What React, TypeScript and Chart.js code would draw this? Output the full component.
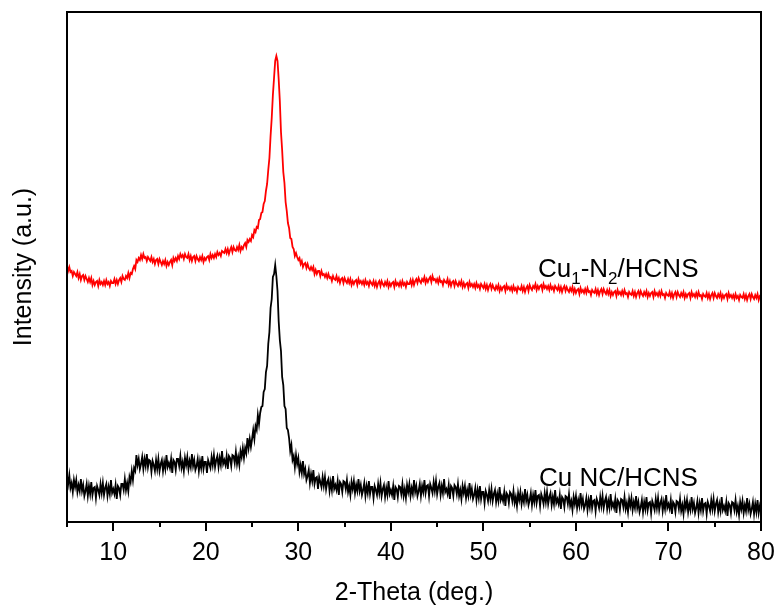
import React, { useEffect, useRef } from "react";
import { Chart, registerables } from "chart.js";

Chart.register(...registerables);

// 2-Theta sampling grid (deg.), 0.125° steps from 5 to 80
const twoTheta: number[] = [];
for (let i = 0; i <= 600; i++) twoTheta.push(5 + i * 0.125);

// Cu1-N2/HCNS intensity (a.u., offset trace), 8 readings per degree
const cuN2Hcns: number[] = [
  256, 251, 255, 250, 251, 246, 250, 248, // 5
  246, 250, 244, 248, 242, 246, 247, 242, // 6
  246, 243, 240, 244, 240, 244, 237, 241, // 7
  237, 240, 241, 236, 242, 238, 240, 237, // 8
  241, 237, 242, 238, 240, 236, 241, 239, // 9
  239, 243, 238, 242, 238, 242, 244, 240, // 10
  246, 243, 242, 246, 244, 249, 244, 249, // 11
  248, 253, 256, 253, 262, 260, 264, 262, // 12
  267, 263, 268, 264, 265, 261, 265, 263, // 13
  261, 265, 260, 263, 258, 262, 263, 258, // 14
  263, 260, 257, 261, 258, 262, 256, 260, // 15
  257, 260, 262, 257, 264, 261, 264, 261, // 16
  266, 263, 268, 265, 267, 263, 268, 265, // 17
  264, 268, 262, 266, 261, 265, 266, 261, // 18
  266, 263, 261, 265, 262, 266, 260, 264, // 19
  262, 265, 266, 262, 268, 264, 267, 264, // 20
  268, 265, 270, 267, 269, 266, 271, 270, // 21
  269, 273, 269, 273, 268, 272, 275, 270, // 22
  275, 272, 271, 275, 272, 277, 271, 275, // 23
  273, 277, 279, 275, 282, 280, 283, 281, // 24
  287, 285, 292, 290, 295, 294, 302, 303, // 25
  309, 310, 318, 321, 331, 338, 352, 364, // 26
  386, 404, 427, 444, 461, 466, 461, 443, // 27
  421, 390, 372, 350, 339, 320, 311, 299, // 28
  294, 284, 283, 275, 273, 266, 269, 265, // 29
  262, 264, 258, 261, 255, 258, 259, 254, // 30
  258, 254, 252, 255, 252, 255, 248, 252, // 31
  248, 251, 251, 246, 251, 247, 248, 245, // 32
  248, 244, 248, 244, 245, 241, 246, 243, // 33
  242, 246, 241, 244, 239, 243, 244, 239, // 34
  244, 241, 239, 243, 239, 243, 237, 241, // 35
  238, 241, 242, 237, 243, 239, 241, 238, // 36
  241, 237, 242, 238, 240, 236, 241, 239, // 37
  237, 241, 236, 240, 235, 239, 241, 236, // 38
  241, 238, 236, 240, 237, 241, 235, 239, // 39
  236, 239, 240, 235, 241, 237, 239, 236, // 40
  240, 236, 241, 237, 239, 235, 240, 238, // 41
  238, 242, 237, 242, 237, 241, 243, 239, // 42
  244, 241, 239, 243, 241, 245, 239, 243, // 43
  240, 243, 245, 240, 246, 242, 243, 240, // 44
  243, 239, 244, 240, 241, 237, 242, 240, // 45
  239, 243, 237, 241, 236, 240, 241, 236, // 46
  241, 238, 236, 240, 237, 241, 235, 239, // 47
  235, 238, 239, 234, 240, 236, 238, 235, // 48
  238, 234, 239, 235, 237, 233, 238, 236, // 49
  234, 238, 233, 237, 232, 236, 238, 233, // 50
  237, 234, 232, 236, 233, 237, 231, 235, // 51
  232, 235, 236, 231, 237, 233, 235, 232, // 52
  235, 231, 236, 232, 234, 230, 235, 233, // 53
  232, 236, 231, 235, 230, 234, 236, 231, // 54
  237, 234, 232, 236, 234, 238, 232, 236, // 55
  233, 236, 237, 232, 238, 234, 236, 233, // 56
  236, 232, 237, 233, 235, 231, 236, 234, // 57
  232, 236, 231, 235, 230, 234, 236, 231, // 58
  235, 232, 230, 234, 231, 235, 229, 233, // 59
  229, 232, 233, 228, 234, 230, 232, 229, // 60
  233, 229, 234, 230, 231, 227, 232, 230, // 61
  229, 233, 228, 232, 227, 231, 233, 228, // 62
  233, 230, 228, 232, 228, 232, 226, 230, // 63
  227, 230, 231, 226, 232, 228, 230, 227, // 64
  231, 227, 232, 228, 229, 225, 230, 228, // 65
  227, 231, 226, 230, 225, 229, 231, 226, // 66
  231, 228, 226, 230, 227, 231, 225, 229, // 67
  226, 229, 230, 225, 231, 227, 229, 226, // 68
  230, 226, 231, 227, 228, 224, 229, 227, // 69
  226, 230, 225, 229, 224, 228, 230, 225, // 70
  230, 227, 225, 229, 226, 230, 224, 228, // 71
  225, 228, 229, 224, 230, 226, 228, 225, // 72
  229, 225, 230, 226, 227, 223, 228, 226, // 73
  225, 229, 224, 228, 223, 227, 229, 224, // 74
  229, 226, 224, 228, 225, 229, 223, 227, // 75
  224, 227, 228, 223, 229, 225, 227, 224, // 76
  227, 223, 228, 224, 226, 222, 227, 225, // 77
  224, 228, 223, 227, 222, 226, 228, 223, // 78
  228, 225, 223, 227, 224, 228, 222, 226, // 79
  225, // 80
];

// Cu NC/HCNS intensity (a.u., offset trace), 8 readings per degree
const cuNcHcns: number[] = [
  46, 38, 47, 34, 39, 30, 42, 35, // 5
  42, 30, 37, 31, 43, 31, 37, 26, // 6
  31, 38, 26, 36, 28, 40, 27, 34, // 7
  35, 24, 36, 32, 27, 38, 29, 39, // 8
  27, 34, 38, 26, 35, 28, 42, 29, // 9
  33, 28, 37, 23, 36, 34, 27, 38, // 10
  38, 32, 43, 32, 39, 31, 45, 40, // 11
  51, 42, 54, 51, 67, 57, 63, 53, // 12
  58, 65, 53, 63, 56, 68, 55, 62, // 13
  61, 50, 61, 57, 51, 62, 53, 63, // 14
  51, 58, 62, 51, 60, 53, 67, 55, // 15
  59, 54, 63, 49, 62, 60, 52, 63, // 16
  63, 56, 66, 54, 60, 51, 64, 57, // 17
  65, 53, 61, 55, 68, 56, 62, 52, // 18
  56, 63, 51, 61, 54, 66, 53, 60, // 19
  60, 49, 62, 58, 54, 65, 57, 67, // 20
  55, 62, 66, 55, 64, 57, 71, 58, // 21
  62, 57, 66, 53, 66, 64, 56, 67, // 22
  66, 59, 70, 58, 65, 57, 71, 65, // 23
  74, 64, 74, 69, 84, 74, 83, 75, // 24
  83, 92, 83, 96, 92, 107, 98, 109, // 25
  115, 116, 130, 133, 150, 156, 178, 190, // 26
  214, 223, 245, 248, 257, 246, 231, 201, // 27
  182, 171, 145, 137, 116, 113, 94, 92, // 28
  84, 71, 77, 62, 66, 55, 67, 58, // 29
  64, 50, 57, 49, 61, 48, 53, 42, // 30
  46, 52, 39, 48, 41, 52, 38, 44, // 31
  45, 33, 45, 40, 35, 45, 36, 45, // 32
  33, 40, 43, 31, 40, 32, 46, 33, // 33
  37, 32, 41, 27, 40, 38, 30, 41, // 34
  40, 33, 42, 30, 36, 27, 40, 33, // 35
  41, 29, 37, 31, 43, 31, 37, 27, // 36
  32, 39, 26, 36, 29, 41, 28, 35, // 37
  35, 24, 36, 32, 27, 38, 29, 39, // 38
  26, 33, 37, 25, 34, 27, 41, 28, // 39
  32, 27, 36, 22, 35, 33, 25, 36, // 40
  35, 28, 38, 26, 33, 24, 37, 30, // 41
  38, 26, 34, 28, 42, 30, 36, 26, // 42
  31, 38, 26, 36, 30, 42, 29, 36, // 43
  37, 26, 38, 34, 29, 40, 31, 41, // 44
  28, 35, 39, 27, 36, 29, 43, 30, // 45
  33, 28, 37, 23, 36, 34, 26, 37, // 46
  35, 28, 38, 26, 32, 23, 36, 29, // 47
  36, 24, 32, 26, 39, 27, 33, 23, // 48
  27, 34, 22, 32, 24, 36, 23, 30, // 49
  30, 19, 31, 27, 21, 32, 23, 33, // 50
  21, 28, 32, 20, 28, 21, 35, 22, // 51
  26, 21, 30, 16, 29, 27, 19, 30, // 52
  28, 21, 31, 19, 25, 16, 29, 22, // 53
  30, 18, 26, 20, 33, 21, 27, 17, // 54
  22, 29, 17, 27, 20, 32, 19, 26, // 55
  27, 16, 28, 24, 18, 29, 20, 30, // 56
  18, 25, 29, 17, 25, 18, 32, 19, // 57
  23, 18, 27, 13, 25, 23, 15, 26, // 58
  25, 18, 28, 16, 21, 12, 25, 18, // 59
  26, 14, 22, 16, 29, 17, 23, 13, // 60
  17, 24, 12, 22, 15, 27, 14, 21, // 61
  22, 11, 23, 19, 14, 25, 16, 26, // 62
  14, 21, 25, 13, 21, 14, 28, 15, // 63
  19, 14, 23, 9, 22, 20, 12, 23, // 64
  22, 15, 25, 13, 19, 10, 23, 16, // 65
  24, 12, 20, 14, 26, 14, 20, 10, // 66
  15, 22, 10, 20, 13, 25, 12, 19, // 67
  20, 9, 21, 17, 12, 23, 14, 24, // 68
  12, 19, 23, 11, 20, 13, 27, 14, // 69
  18, 13, 22, 8, 20, 18, 10, 21, // 70
  20, 13, 23, 11, 17, 8, 21, 14, // 71
  22, 10, 18, 12, 25, 13, 19, 9, // 72
  14, 21, 9, 19, 12, 24, 11, 18, // 73
  19, 8, 20, 16, 11, 22, 13, 23, // 74
  11, 18, 22, 10, 18, 11, 25, 12, // 75
  16, 11, 20, 6, 19, 17, 9, 20, // 76
  19, 12, 22, 10, 16, 7, 20, 13, // 77
  21, 9, 17, 11, 24, 12, 18, 8, // 78
  13, 20, 8, 18, 10, 22, 9, 16, // 79
  10, // 80
];

const seriesNames = ["Cu1-N2/HCNS", "Cu NC/HCNS"];
const seriesColors = ["#ff0000", "#000000"];

// trace labels (text segments; sub = subscript), anchored in data units
const traceLabels = [
  { x: 55.9, y: 245, parts: [{ t: "Cu" }, { t: "1", sub: true }, { t: "-N" }, { t: "2", sub: true }, { t: "/HCNS" }] },
  { x: 56.0, y: 36, parts: [{ t: "Cu NC/HCNS" }] },
];

const FONT = 'Arial, "Liberation Sans", sans-serif';

const decorPlugin = {
  id: "decor",
  afterDatasetsDraw(chart: any) {
    const { ctx, chartArea: a, scales } = chart;
    const x = scales.x;
    const y = scales.y;
    ctx.save();
    ctx.strokeStyle = "#000";
    ctx.lineWidth = 2;
    ctx.strokeRect(a.left, a.top, a.right - a.left, a.bottom - a.top);
    for (const t of x.ticks) {
      const px = Math.round(x.getPixelForValue(t.value));
      const len = t.value % 10 === 0 ? 9 : 5;
      ctx.beginPath();
      ctx.moveTo(px, a.bottom);
      ctx.lineTo(px, a.bottom + len);
      ctx.stroke();
    }
    ctx.fillStyle = "#000";
    ctx.textBaseline = "alphabetic";
    ctx.textAlign = "left";
    for (const lab of traceLabels) {
      let px = x.getPixelForValue(lab.x);
      const py = y.getPixelForValue(lab.y);
      for (const p of lab.parts as any[]) {
        ctx.font = p.sub ? `17px ${FONT}` : `26px ${FONT}`;
        ctx.fillText(p.t, px, p.sub ? py + 7 : py);
        px += ctx.measureText(p.t).width;
      }
    }
    ctx.restore();
  },
};

export default function App() {
  const ref = useRef<HTMLCanvasElement | null>(null);
  useEffect(() => {
    if (!ref.current) return;
    const chart = new Chart(ref.current, {
      type: "line",
      data: {
        labels: twoTheta,
        datasets: [
          {
            label: seriesNames[0],
            data: twoTheta.map((t, i) => ({ x: t, y: cuN2Hcns[i] })),
            borderColor: seriesColors[0],
            borderWidth: 1.8,
            pointRadius: 0,
            tension: 0,
            fill: false,
          },
          {
            label: seriesNames[1],
            data: twoTheta.map((t, i) => ({ x: t, y: cuNcHcns[i] })),
            borderColor: seriesColors[1],
            borderWidth: 1.8,
            pointRadius: 0,
            tension: 0,
            fill: false,
          },
        ],
      },
      options: {
        responsive: false,
        animation: false,
        layout: { padding: { top: 12, right: 18, left: 0, bottom: 0 } },
        plugins: { legend: { display: false }, tooltip: { enabled: false } },
        scales: {
          x: {
            type: "linear",
            min: 5,
            max: 80,
            grid: { display: false, drawTicks: false },
            border: { display: false },
            ticks: {
              stepSize: 5,
              autoSkip: false,
              maxRotation: 0,
              padding: 16,
              color: "#000",
              font: { family: FONT, size: 25 },
              callback: (v: any) => (Number(v) % 10 === 0 ? String(v) : ""),
            },
            title: {
              display: true,
              text: "2-Theta (deg.)",
              color: "#000",
              font: { family: FONT, size: 25 },
              padding: { top: 0, bottom: 3 },
            },
            afterFit: (s: any) => {
              s.height = 89;
              s.paddingLeft = 0;
              s.paddingRight = 0;
            },
          },
          y: {
            min: 0,
            max: 510,
            grid: { display: false, drawTicks: false },
            border: { display: false },
            ticks: { display: false },
            title: {
              display: true,
              text: "Intensity (a.u.)",
              color: "#000",
              font: { family: FONT, size: 25 },
              padding: { top: 9, bottom: 0 },
            },
            afterFit: (s: any) => {
              s.width = 67;
            },
          },
        },
      },
      plugins: [decorPlugin],
    });
    return () => chart.destroy();
  }, []);
  return (
    <div style={{ position: "fixed", left: 0, top: 0, width: 779, height: 611, background: "#fff" }}>
      <canvas ref={ref} width={779} height={611} />
    </div>
  );
}
